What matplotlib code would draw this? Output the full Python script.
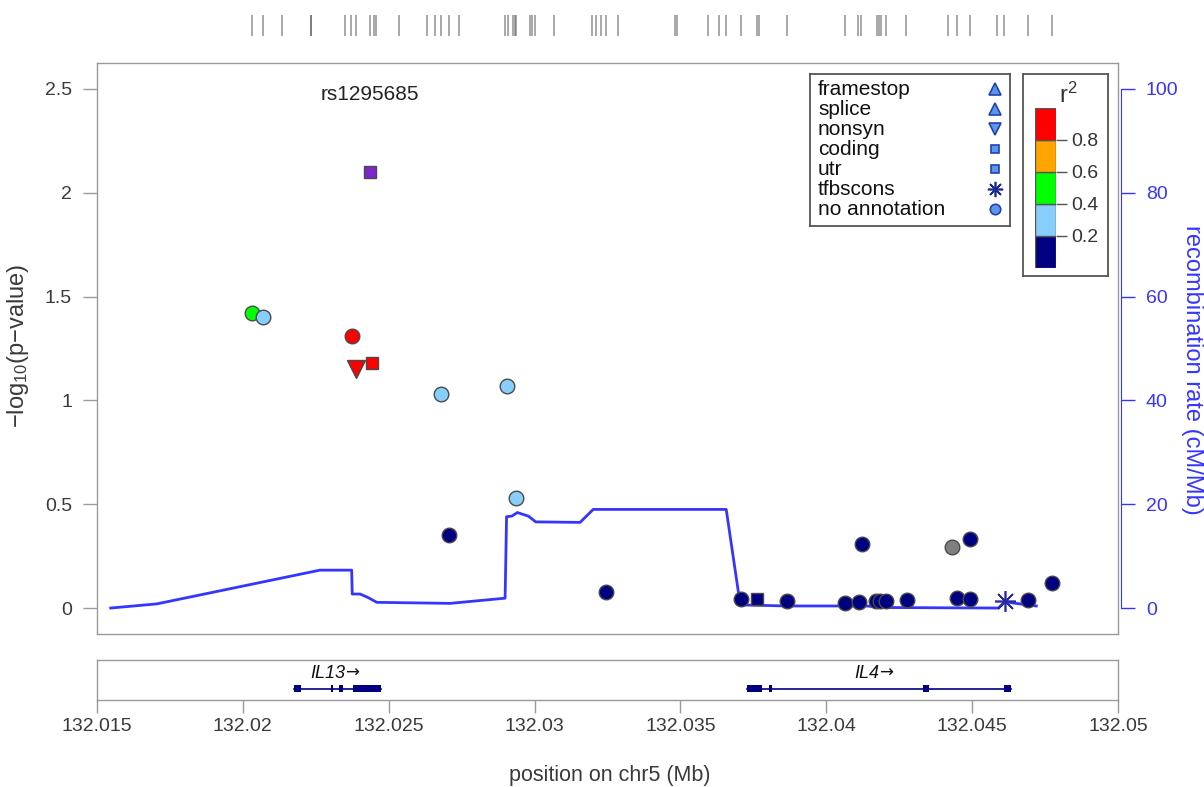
import matplotlib
matplotlib.use('Agg')
import matplotlib.pyplot as plt
from matplotlib.patches import Rectangle
import numpy as np

plt.rcParams['font.family'] = ['Liberation Sans', 'DejaVu Sans']
plt.rcParams['mathtext.fontset'] = 'custom'
plt.rcParams['mathtext.rm'] = 'Liberation Sans'
plt.rcParams['mathtext.it'] = 'Liberation Sans:italic'

# ---- data ----
ref_snp = 'rs1295685'
snp_pos = [132.02436, 132.02031, 132.02070, 132.02375, 132.02387, 132.02441,
           132.02678, 132.02907, 132.02935, 132.02708, 132.03244, 132.03708,
           132.03762, 132.03864, 132.04065, 132.04112, 132.04121, 132.04169,
           132.04183, 132.04203, 132.04275, 132.04432, 132.04492, 132.04448,
           132.04492, 132.04611, 132.04690, 132.04773]
snp_logp = [2.10, 1.42, 1.40, 1.31, 1.15, 1.18,
            1.03, 1.07, 0.53, 0.35, 0.076, 0.045,
            0.045, 0.034, 0.026, 0.029, 0.308, 0.035,
            0.035, 0.035, 0.040, 0.292, 0.332, 0.048,
            0.043, 0.035, 0.037, 0.122]
snp_r2 = [1.0, 0.5, 0.3, 0.9, 0.9, 0.9,
          0.3, 0.3, 0.3, 0.1, 0.1, 0.1,
          0.1, 0.1, 0.1, 0.1, 0.1, 0.1,
          0.1, 0.1, 0.1, np.nan, 0.1, 0.1,
          0.1, 0.1, 0.1, 0.1]
snp_annot = ['coding', 'none', 'none', 'none', 'nonsyn', 'coding',
             'none', 'none', 'none', 'none', 'none', 'none',
             'coding', 'none', 'none', 'none', 'none', 'none',
             'none', 'none', 'none', 'none', 'none', 'none',
             'none', 'tfbscons', 'none', 'none']

rec_pos = [132.01547, 132.01705, 132.02264, 132.02373, 132.02375, 132.02402,
           132.02430, 132.02459, 132.02710, 132.02899, 132.02904, 132.02922,
           132.02941, 132.02979, 132.03004, 132.03156, 132.03201, 132.03657,
           132.03701, 132.03710, 132.03864, 132.04136, 132.04206, 132.04590,
           132.04614, 132.04637, 132.04720]
rec_rate = [0.0, 0.8, 7.3, 7.3, 2.7, 2.7,
            2.0, 1.1, 0.9, 1.9, 17.6, 17.7,
            18.4, 17.7, 16.6, 16.5, 19.0, 19.0,
            2.2, 0.6, 0.4, 0.4, 0.1, 0.0,
            1.3, 1.0, 0.4]

rug_pos = [132.02030, 132.02070, 132.02135, 132.02232, 132.02235, 132.02350,
           132.02371, 132.02388, 132.02436, 132.02451, 132.02455, 132.02536,
           132.02630, 132.02659, 132.02679, 132.02708, 132.02741, 132.02899,
           132.02908, 132.02927, 132.02933, 132.02936, 132.02984, 132.02992,
           132.03003, 132.03067, 132.03198, 132.03211, 132.03228, 132.03245,
           132.03285, 132.03481, 132.03487, 132.03594, 132.03632, 132.03656,
           132.03708, 132.03764, 132.03770, 132.03864, 132.04064, 132.04110,
           132.04119, 132.04173, 132.04181, 132.04188, 132.04204, 132.04273,
           132.04416, 132.04449, 132.04493, 132.04586, 132.04609, 132.04693,
           132.04773]

gene_names = ['IL13', 'IL4']
gene_start = [132.02175, 132.03727]
gene_end = [132.02473, 132.04633]
exon_start = [[132.02175, 132.02301, 132.02331, 132.02377],
              [132.03727, 132.03805, 132.04333, 132.04610]]
exon_end = [[132.02198, 132.02310, 132.02342, 132.02473],
            [132.03781, 132.03813, 132.04353, 132.04633]]
gene_label_x = [132.02350, 132.04180]

x_ticks = [132.015, 132.02, 132.025, 132.03, 132.035, 132.04, 132.045, 132.05]
x_labels = ['132.015', '132.02', '132.025', '132.03', '132.035', '132.04', '132.045', '132.05']

annot_names = ['framestop', 'splice', 'nonsyn', 'coding', 'utr', 'tfbscons', 'no annotation']
annot_keys = ['framestop', 'splice', 'nonsyn', 'coding', 'utr', 'tfbscons', 'none']
r2_breaks = [0.0, 0.2, 0.4, 0.6, 0.8, 1.0]
r2_colors = ['#000080', '#87CEFA', '#00FF00', '#FFA500', '#FF0000']

# ---- styling ----
W, H = 1204, 787
markers = {'framestop': '^', 'splice': '^', 'nonsyn': 'v', 'coding': 's',
           'utr': 's', 'tfbscons': (8, 2, 0), 'none': 'o'}
msizes = {'^': 12, 'v': 13, 's': 9, 'o': 10.5}
tick_col = '#3a3a3a'
rec_col = '#3535ff'
box_col = '#9a9a9a'


def frac(left, top, right, bottom):
    return [left / W, 1 - bottom / H, (right - left) / W, (bottom - top) / H]


def r2_color(r2):
    if np.isnan(r2):
        return '#808080'
    for lo, hi, c in zip(r2_breaks[:-1], r2_breaks[1:], r2_colors):
        if lo <= r2 < hi:
            return c
    return r2_colors[-1]


fig = plt.figure(figsize=(W / 100, H / 100), dpi=100)

# main panel
ax = fig.add_axes(frac(97, 63, 1118, 634))
ax2 = ax.twinx()
ax.set_zorder(ax2.get_zorder() + 1)
ax.patch.set_visible(False)

ax2.plot(rec_pos, rec_rate, color=rec_col, lw=2.0, zorder=1)
ax2.set_ylim(-5, 105)
ax2.set_yticks([0, 20, 40, 60, 80, 100])
ax2.tick_params(axis='y', colors=rec_col, labelsize=14, length=10, width=1, pad=8)
for s in ['top', 'bottom', 'left']:
    ax2.spines[s].set_visible(False)
ax2.spines['right'].set_color(rec_col)
ax2.spines['right'].set_bounds(0, 100)
ax2.spines['right'].set_position(('outward', 2))

for i in range(len(snp_pos)):
    mk = markers[snp_annot[i]]
    if i == 0:
        col = '#7B27CC'
    else:
        col = r2_color(snp_r2[i])
    if snp_annot[i] == 'tfbscons':
        ax.plot(snp_pos[i], snp_logp[i], marker=mk, ms=15, mew=1.2,
                color='#2a2aa0', zorder=3, linestyle='none')
    else:
        ax.plot(snp_pos[i], snp_logp[i], marker=mk, ms=msizes[mk],
                mfc=col, mec='#4a4a4a', mew=1.0, zorder=3, linestyle='none')

ax.set_xlim(132.015, 132.05)
ax.set_ylim(-0.125, 2.625)
ax.set_xticks([])
ax.set_yticks([0, 0.5, 1, 1.5, 2, 2.5])
ax.set_yticklabels(['0', '0.5', '1', '1.5', '2', '2.5'])
ax.tick_params(axis='y', colors=box_col, labelcolor=tick_col, labelsize=14,
               length=10, width=1, pad=8)
for s in ax.spines.values():
    s.set_color(box_col)
    s.set_linewidth(1.0)
ax.text(snp_pos[0], 2.475, ref_snp, ha='center', va='center', fontsize=15,
        color='#222222')

# annotation legend
lg = fig.add_axes(frac(810, 74, 1010, 226))
lg.set_zorder(5)
lg.set_xlim(0, 200)
lg.set_ylim(152, 0)
lg.set_xticks([])
lg.set_yticks([])
for s in lg.spines.values():
    s.set_color('#555555')
    s.set_linewidth(1.3)
lg.patch.set_facecolor('white')
for k, (name, key) in enumerate(zip(annot_names, annot_keys)):
    yy = 15 + 20 * k
    lg.text(8, yy, name, ha='left', va='center', fontsize=15, color='#111111')
    mk = markers[key]
    if key == 'tfbscons':
        lg.plot(185, yy, marker=mk, ms=11, mew=1.2, color='#1a2a90')
    else:
        ms = {'^': 9, 'v': 9, 's': 6, 'o': 7.5}[mk]
        lg.plot(185, yy, marker=mk, ms=ms, mfc='#5b96ea', mec='#2340b0', mew=1.2)

# r2 legend
rb = fig.add_axes(frac(1023, 74, 1108, 276))
rb.set_zorder(5)
rb.set_xticks([])
rb.set_yticks([])
for s in rb.spines.values():
    s.set_color('#555555')
    s.set_linewidth(1.3)
rb.text(0.53, 0.895, r'$\mathregular{r^2}$', transform=rb.transAxes, ha='center',
        va='center', fontsize=17, color='#333333')
cb = fig.add_axes(frac(1035, 108, 1056, 268))
cb.set_zorder(6)
cb.bar(0.5, np.diff(r2_breaks), bottom=r2_breaks[:-1], width=1.0,
       color=r2_colors, edgecolor='#555555', linewidth=1.0)
cb.set_xlim(0, 1)
cb.set_ylim(0, 1)
cb.set_xticks([])
cb.yaxis.tick_right()
cb.set_yticks(r2_breaks[1:-1])
cb.set_yticklabels(['0.2', '0.4', '0.6', '0.8'])
cb.tick_params(axis='y', colors='#555555', labelcolor='#333333', labelsize=14,
               length=8, width=1, pad=3)
for s in cb.spines.values():
    s.set_visible(False)

# SNP rug on top
rug = fig.add_axes(frac(97, 15, 1118, 36))
rug.vlines(rug_pos, 0, 1, color='#555555', alpha=0.55, lw=1.3)
rug.set_xlim(132.015, 132.05)
rug.set_ylim(0, 1)
rug.axis('off')

# gene panel
gx = fig.add_axes(frac(97, 660, 1118, 700))
gx.set_xlim(132.015, 132.05)
gx.set_ylim(0, 1)
gx.set_yticks([])
for g in range(len(gene_names)):
    gx.plot([gene_start[g], gene_end[g]], [0.28, 0.28], color='#000080', lw=1.2)
    for es, ee in zip(exon_start[g], exon_end[g]):
        gx.add_patch(Rectangle((es, 0.19), ee - es, 0.18, color='#000080', lw=0))
    gx.text(gene_label_x[g], 0.66, gene_names[g], ha='right', va='center',
            fontsize=13, style='italic', color='#111111')
    gx.text(gene_label_x[g], 0.68, '\u2192', ha='left', va='center',
            fontsize=12, family='DejaVu Sans', color='#111111')
gx.set_xticks(x_ticks)
gx.set_xticklabels(x_labels)
gx.tick_params(axis='x', colors=box_col, labelcolor=tick_col, labelsize=14,
               length=9, width=1, pad=4)
for s in gx.spines.values():
    s.set_color(box_col)
    s.set_linewidth(1.0)

fig.text(18 / W, 1 - 346 / H, r'$\mathregular{-log_{10}(p{-}value)}$', rotation=90,
         ha='center', va='center', fontsize=17, color=tick_col)
fig.text(1192 / W, 1 - 370 / H, 'recombination rate (cM/Mb)', rotation=270,
         ha='center', va='center', fontsize=17, color=rec_col)
fig.text(610 / W, 1 - 775 / H, 'position on chr5 (Mb)', ha='center', va='center',
         fontsize=15.5, color=tick_col)

fig.savefig('out.png', dpi=100)
